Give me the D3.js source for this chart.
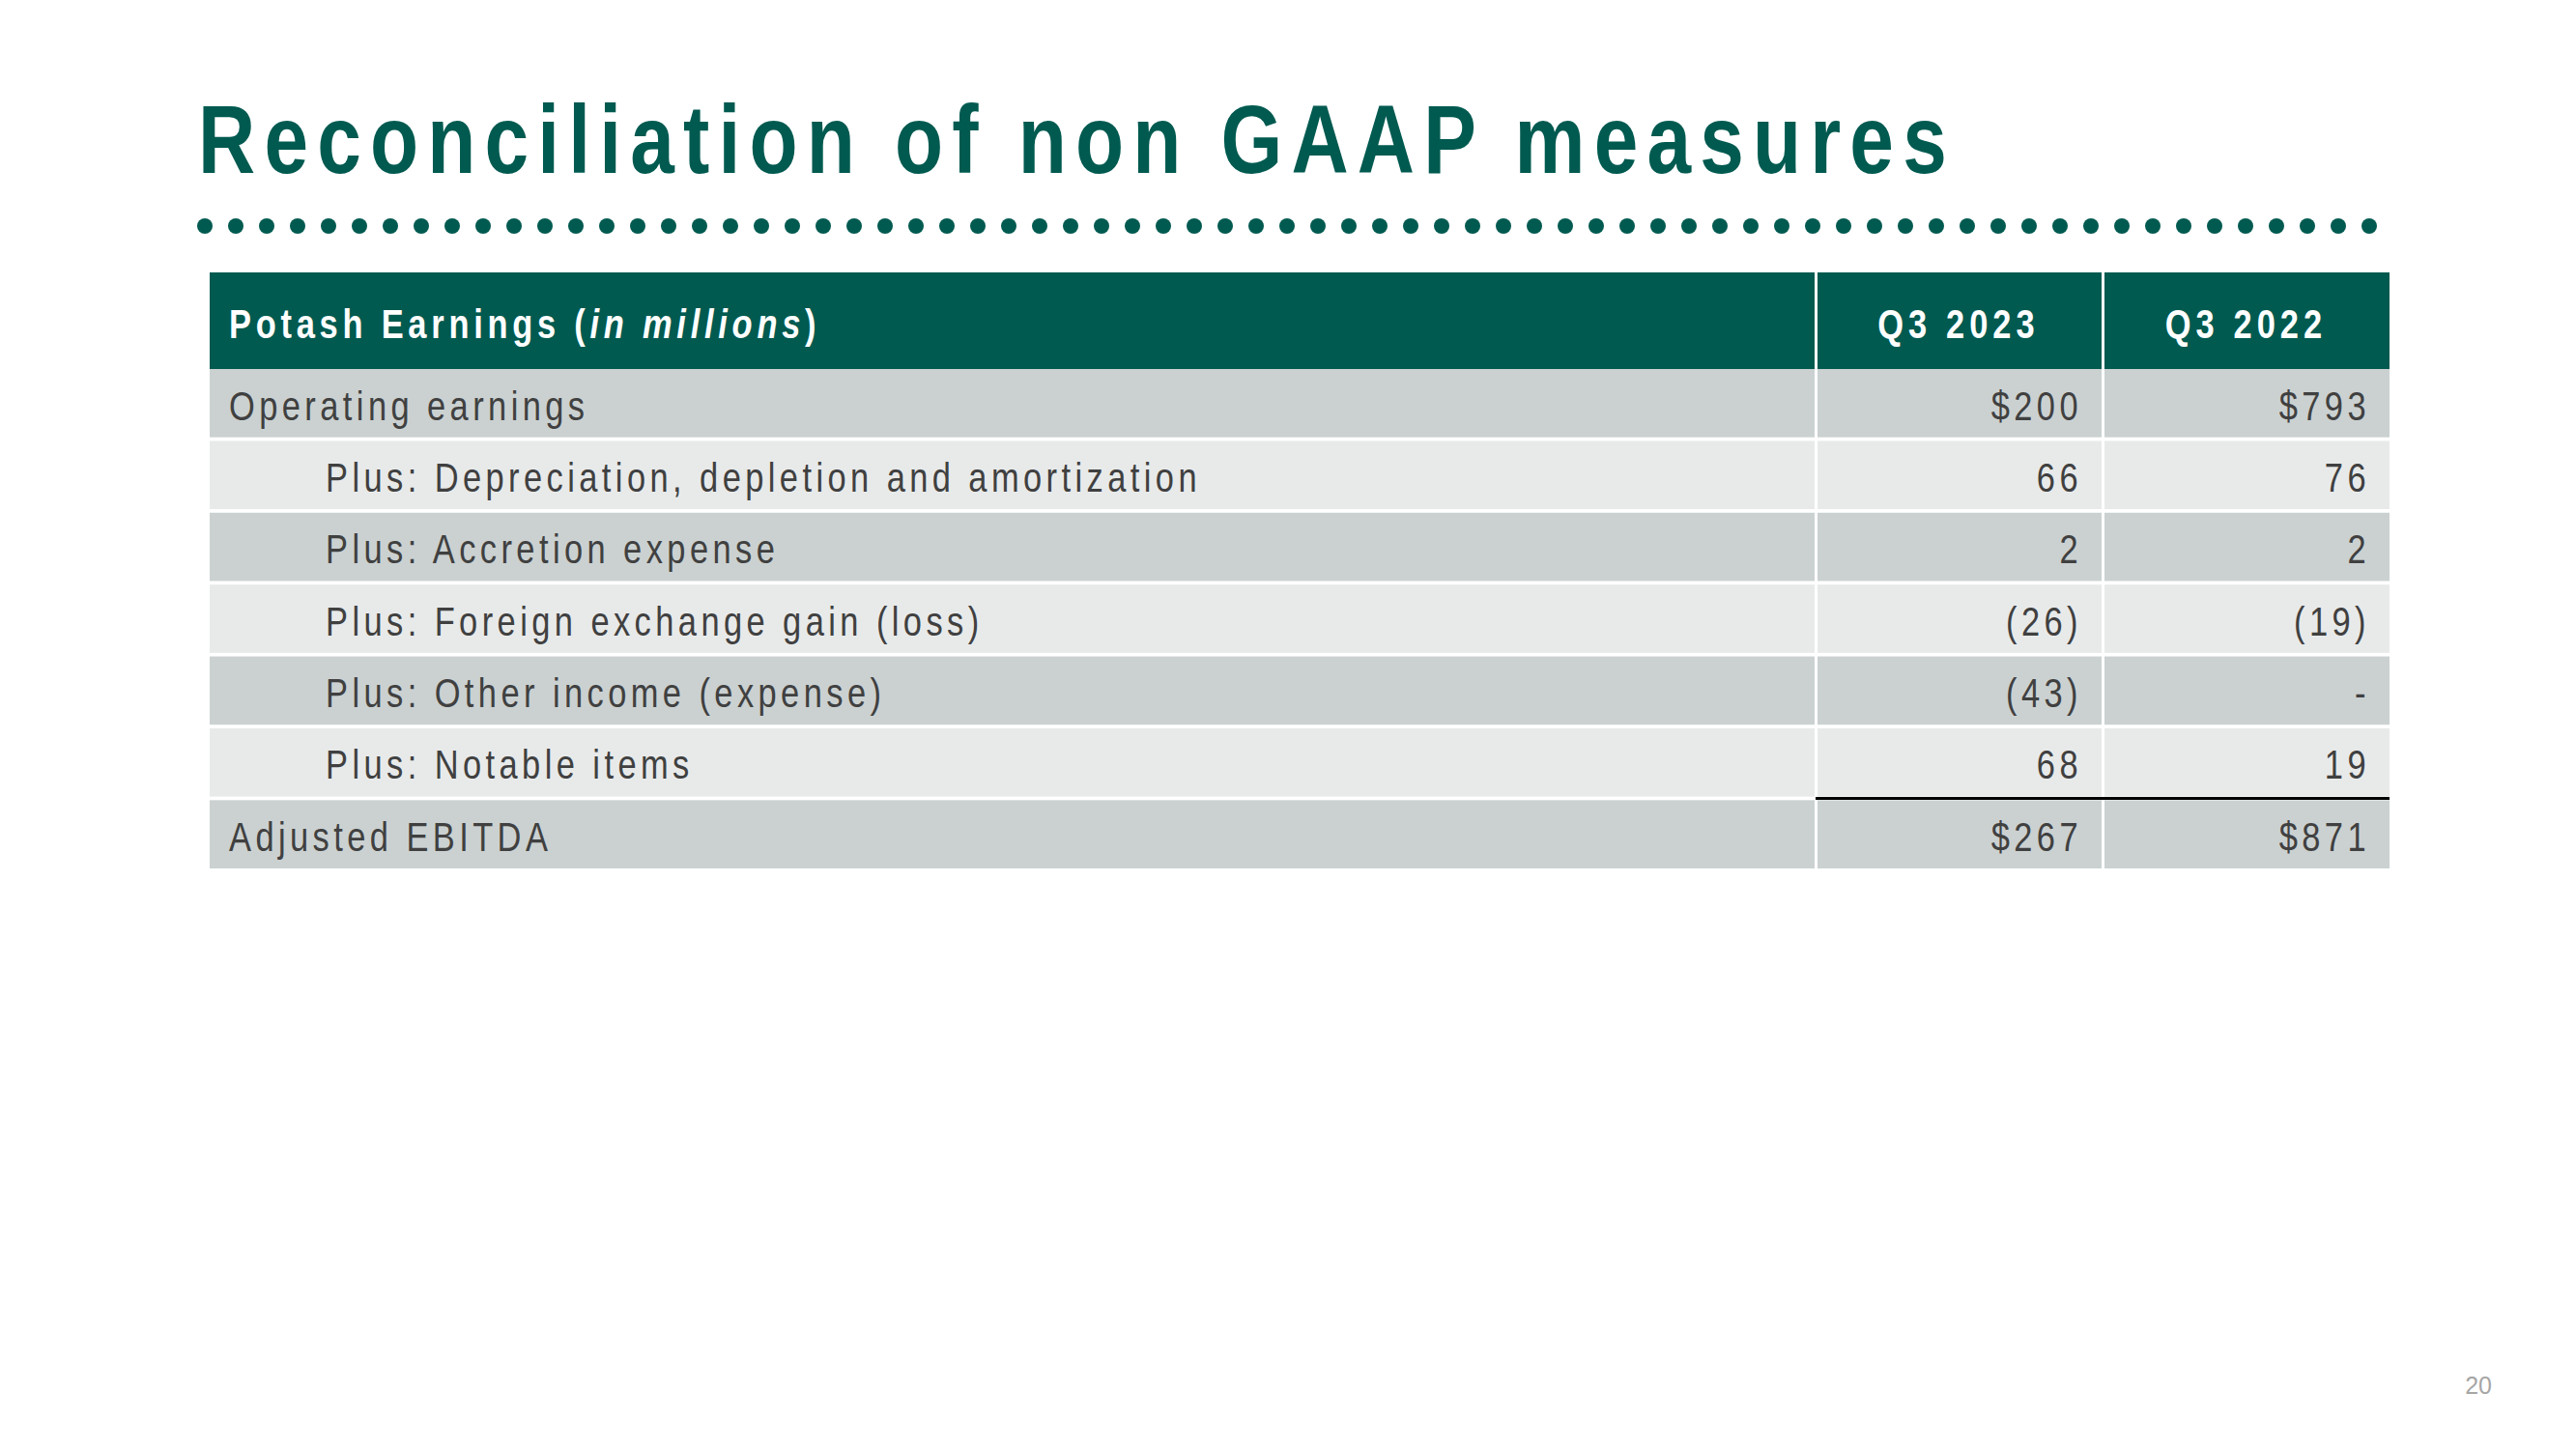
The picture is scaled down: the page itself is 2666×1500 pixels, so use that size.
<!DOCTYPE html>
<html>
<head>
<meta charset="utf-8">
<script src="https://cdn.jsdelivr.net/npm/d3@7"></script>
<style>
  html, body { margin: 0; padding: 0; background: #ffffff; }
  svg { display: block; }
</style>
</head>
<body>
<script>
// ---- Data ----
const title = "Reconciliation of non GAAP measures";
const headerLabel = "Potash Earnings";
const headerUnit = "in millions";
const periods = ["Q3 2023", "Q3 2022"];
const rowLabels = [
  "Operating earnings",
  "Plus: Depreciation, depletion and amortization",
  "Plus: Accretion expense",
  "Plus: Foreign exchange gain (loss)",
  "Plus: Other income (expense)",
  "Plus: Notable items",
  "Adjusted EBITDA"
];
const rowIndented = [false, true, true, true, true, true, false];
const rowDollar = [true, false, false, false, false, false, true];
const valuesQ3_2023 = [200, 66, 2, -26, -43, 68, 267];
const valuesQ3_2022 = [793, 76, 2, -19, null, 19, 871];
const pageNumber = "20";

// ---- Layout ----
const W = 2666, H = 1500;
const GREEN = "#005a50";
const DARK = "#cbd1d1";
const LIGHT = "#e8eaea";
const TEXT = "#404040";
const FONT = "'Liberation Sans Narrow','Arial Narrow','Liberation Sans',Arial,sans-serif";
const SX = 0.82; // condensed (Arial Narrow-like) horizontal scale

const svg = d3.select("body").append("svg")
  .attr("width", W).attr("height", H)
  .attr("viewBox", `0 0 ${W} ${H}`);

svg.append("rect").attr("width", W).attr("height", H).attr("fill", "#ffffff");

function narrowText(parent, x, y) {
  return parent.append("text")
    .attr("x", 0).attr("y", 0)
    .attr("transform", `translate(${x},${y}) scale(${SX},1)`)
    .style("font-family", FONT);
}

// Title
narrowText(svg, 205, 179)
  .attr("fill", GREEN)
  .style("font-weight", "bold")
  .style("font-size", "100px")
  .style("letter-spacing", "11.2px")
  .text(title);

// Dotted rule
const dotX = d3.scaleLinear().domain([0, 70]).range([212, 2452]);
svg.append("g").selectAll("circle")
  .data(d3.range(71))
  .join("circle")
  .attr("cx", d => dotX(d))
  .attr("cy", 234)
  .attr("r", 8)
  .attr("fill", GREEN);

// Columns
const colEdges = [217, 1879.5, 2176.5, 2473];
const gap = 3;
const cols = [
  { x0: colEdges[0], x1: colEdges[1] - gap / 2 },
  { x0: colEdges[1] + gap / 2, x1: colEdges[2] - gap / 2 },
  { x0: colEdges[2] + gap / 2, x1: colEdges[3] }
];

// Header
const headerTop = 282, headerBottom = 382;
const header = svg.append("g");
cols.forEach(c => {
  header.append("rect")
    .attr("x", c.x0).attr("y", headerTop)
    .attr("width", c.x1 - c.x0).attr("height", headerBottom - headerTop)
    .attr("fill", GREEN);
});
const hText = narrowText(header, 237, headerTop + 68)
  .attr("fill", "#ffffff")
  .style("font-weight", "bold")
  .style("font-size", "42px")
  .style("letter-spacing", "5.8px");
hText.append("tspan").text(headerLabel + " (");
hText.append("tspan").style("font-style", "italic").text(headerUnit);
hText.append("tspan").text(")");

periods.forEach((p, i) => {
  const c = cols[i + 1];
  narrowText(header, (c.x0 + c.x1) / 2 - 1, headerTop + 68)
    .attr("text-anchor", "middle")
    .attr("fill", "#ffffff")
    .style("font-weight", "bold")
    .style("font-size", "42px")
    .style("letter-spacing", "6.2px")
    .text(p);
});

// Body rows
const y = d3.scaleBand()
  .domain(d3.range(rowLabels.length))
  .range([headerBottom, 899])
  .paddingInner(0.05)
  .paddingOuter(0)
  .align(0);

function fmt(v, dollar) {
  if (v === null || v === undefined) return "-";
  const a = Math.abs(v);
  const s = (dollar ? "$" : "") + d3.format(",")(a);
  return v < 0 ? `(${s})` : s;
}

const body = svg.append("g");
rowLabels.forEach((label, i) => {
  const top = y(i);
  const h = y.bandwidth();
  const fill = i % 2 === 0 ? DARK : LIGHT;
  cols.forEach(c => {
    body.append("rect")
      .attr("x", c.x0).attr("y", top)
      .attr("width", c.x1 - c.x0).attr("height", h)
      .attr("fill", fill);
  });
  narrowText(body, rowIndented[i] ? 337 : 237, top + 52.5)
    .attr("fill", TEXT)
    .style("font-size", "42px")
    .style("letter-spacing", "5.4px")
    .text(label);
  [valuesQ3_2023[i], valuesQ3_2022[i]].forEach((v, j) => {
    const c = cols[j + 1];
    narrowText(body, c.x1 - 20, top + 52.5)
      .attr("text-anchor", "end")
      .attr("fill", TEXT)
      .style("font-size", "42px")
      .style("letter-spacing", "5.4px")
      .text(fmt(v, rowDollar[i]));
  });
});

// Total rule above Adjusted EBITDA in value columns
const lastTop = y(rowLabels.length - 1);
svg.append("line")
  .attr("x1", cols[1].x0 - 2).attr("x2", cols[2].x1)
  .attr("y1", lastTop - 1.8).attr("y2", lastTop - 1.8)
  .attr("stroke", "#000000")
  .attr("stroke-width", 3);

// Page number
svg.append("text")
  .attr("x", 2579).attr("y", 1443)
  .attr("text-anchor", "end")
  .attr("fill", "#a6a6a6")
  .style("font-family", "'Liberation Sans',Arial,sans-serif")
  .style("font-size", "25px")
  .text(pageNumber);
</script>
</body>
</html>
